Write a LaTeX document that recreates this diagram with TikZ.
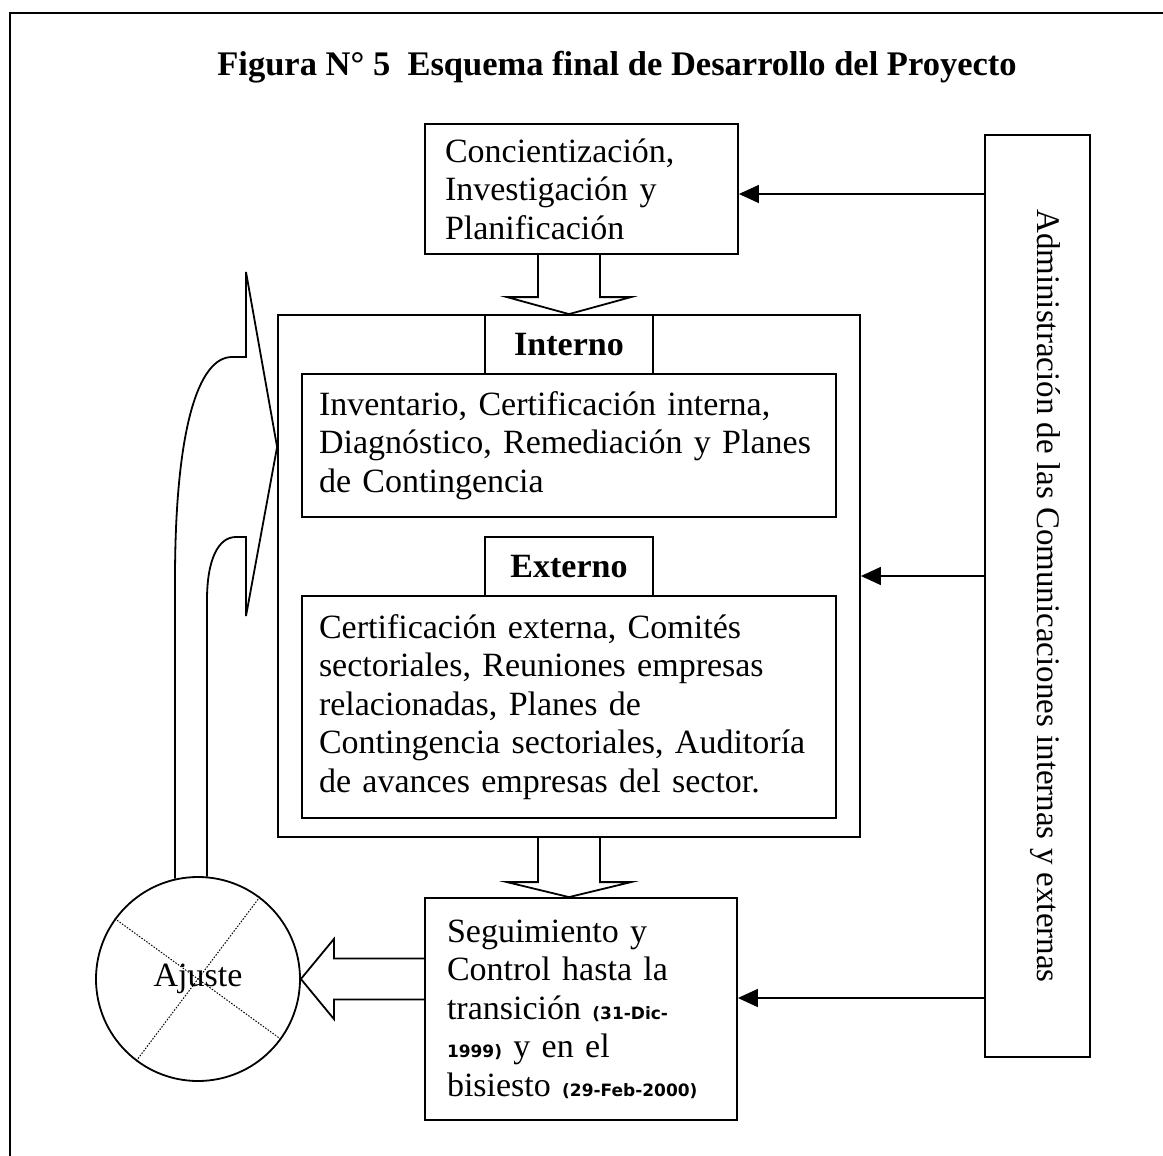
\documentclass[tikz,border=0pt]{standalone}
\usepackage{fontspec}
\setmainfont{Liberation Serif}
\newfontfamily\datefont{DejaVu Sans}
\usetikzlibrary{arrows.meta,calc}
\newcommand\datetxt[1]{{\datefont\bfseries\fontsize{17}{38.5}\selectfont #1}}
\begin{document}
\begin{tikzpicture}[x=1pt,y=-1pt,
  line width=1.8pt,
  txtbox/.style={draw, rectangle, inner xsep=20pt, inner ysep=0pt, align=left,
    font=\fontsize{34}{38.5}\selectfont},
  tab/.style={draw, rectangle, minimum width=168pt, minimum height=59pt,
    font=\bfseries\fontsize{34}{38}\selectfont, fill=white},
  feed/.style={line width=1.5pt, -{Triangle[length=20pt,width=18pt]}},
  block/.style={line width=1.8pt, line join=miter},
  cross/.style={line width=1pt, dash pattern=on 1.5pt off 1.5pt}]
\useasboundingbox (0,0) rectangle (1163,1156);

% frame
\draw (10,1156) -- (10,13) -- (1163,13);

% title
\node[font=\bfseries\fontsize{34.5}{40}\selectfont] (title) at (617,67)
  {Figura N\textdegree\ 5\enspace Esquema final de Desarrollo del Proyecto};

% first stage
\node[txtbox, text width=273pt, minimum height=130pt] (plan) at (581.5,189)
  {Concientización,\\Investigación y\\Planificación};

% central block with its two parts
\node[draw, rectangle, minimum width=582pt, minimum height=522pt] (big) at (569,576) {};
\node[tab] (int) at (569,344.5) {Interno};
\node[txtbox, text width=500pt, inner xsep=17pt, minimum height=143pt] (intbox) at (569,445.5)
  {Inventario, Certificación interna,\\Diagnóstico, Remediación y Planes\\de Contingencia};
\node[tab] (ext) at (569,566.5) {Externo};
\node[txtbox, text width=500pt, inner xsep=17pt, minimum height=222pt] (extbox) at (569,707)
  {Certificación externa, Comités\\sectoriales, Reuniones empresas\\relacionadas, Planes de\\Contingencia sectoriales, Auditoría\\de avances empresas del sector.};

% follow-up stage
\node[txtbox, text width=268pt, inner xsep=22pt, minimum height=222pt] (seg) at (581,1009)
  {Seguimiento y\\Control hasta la\\transición \datetxt{(31-Dic-}\\\datetxt{1999)} y en el\\bisiesto \datetxt{(29-Feb-2000)}};

% communications bar
\node[draw, rectangle, minimum width=105pt, minimum height=922pt,
  font=\fontsize{33}{38}\selectfont] (admin) at (1037.5,596)
  {\hspace*{16pt}\rotatebox{-90}{Administración de las Comunicaciones internas y externas}};

% adjustment circle
\node[draw, circle, minimum size=204pt, inner sep=0pt,
  font=\fontsize{34}{38}\selectfont] (ajuste) at (198,979) {Ajuste};
\draw[cross] (ajuste.144) -- (ajuste.324);
\draw[cross] (ajuste.53) -- (ajuste.233);

% feedback arrows from the communications bar
\coordinate (p1) at ([yshift=-5pt]plan.east);
\coordinate (p3) at ([yshift=11pt]seg.east);
\draw[feed] (admin.west |- p1) -- (p1);
\draw[feed] (admin.west |- big.east) -- (big.east);
\draw[feed] (admin.west |- p3) -- (p3);

% hollow block arrows
\draw[block] ($(big.north)+(-31,-61)$) -- ($(big.north)+(-31,-17)$) -- ($(big.north)+(-62,-17)$)
  -- (big.north) -- ($(big.north)+(62,-17)$) -- ($(big.north)+(31,-17)$) -- ($(big.north)+(31,-61)$);

\coordinate (t2) at (big.south |- seg.north);
\draw[block] ($(big.south)+(-31,0)$) -- ($(t2)+(-31,-15)$) -- ($(t2)+(-62,-15)$)
  -- (t2) -- ($(t2)+(62,-15)$) -- ($(t2)+(31,-15)$) -- ($(big.south)+(31,0)$);

\coordinate (t3) at (ajuste.east);
\draw[block] ($(seg.west |- t3)+(0,-20.5)$) -- ($(t3)+(33,-20.5)$) -- ($(t3)+(33,-40)$)
  -- (t3) -- ($(t3)+(33,40)$) -- ($(t3)+(33,20.5)$) -- ($(seg.west |- t3)+(0,20.5)$);

% return loop from the circle back to the central block
\coordinate (loopTip) at ($(big.west)+(0,-129)$);
\coordinate (lo) at (175,580);
\coordinate (li) at (207,600);
\draw[block] (ajuste.103 -| lo) -- (lo) .. controls (175,430) and (198,357) .. (232,357)
  -- (246,357) -- (246,272) -- (loopTip) -- (246,616) -- (246,537) -- (236,537)
  .. controls (218,537) and (207,560) .. (li) -- (ajuste.85 -| li);
\end{tikzpicture}
\end{document}
